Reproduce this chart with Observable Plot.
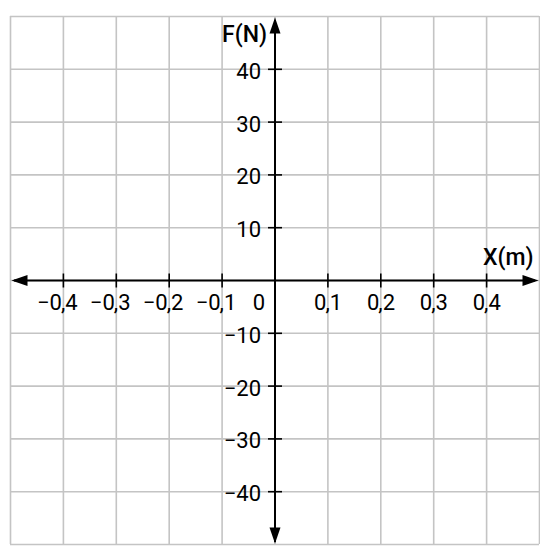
<!DOCTYPE html>
<html>
<head>
<meta charset="utf-8">
<script src="https://cdn.jsdelivr.net/npm/d3@7"></script>
<script src="https://cdn.jsdelivr.net/npm/@observablehq/plot@0.6"></script>
<style>
  html, body { margin: 0; padding: 0; background: #fff; }
  #chart svg { display: block; }
</style>
</head>
<body>
<div id="chart"></div>
<script>
// ---- data ----
const gridX = [-0.5, -0.4, -0.3, -0.2, -0.1, 0, 0.1, 0.2, 0.3, 0.4, 0.5];
const gridY = [-50, -40, -30, -20, -10, 0, 10, 20, 30, 40, 50];
const xTicks = [-0.4, -0.3, -0.2, -0.1, 0.1, 0.2, 0.3, 0.4];
const xTickLabels = ["−0,4", "−0,3", "−0,2", "−0,1", "0,1", "0,2", "0,3", "0,4"];
const yTicks = [-40, -30, -20, -10, 10, 20, 30, 40];
const yTickLabels = ["−40", "−30", "−20", "−10", "10", "20", "30", "40"];
const originLabel = "0";
const xTitle = "X(m)";
const yTitle = "F(N)";

// ---- derived tables ----
const xMin = d3.min(gridX), xMax = d3.max(gridX);
const yMin = d3.min(gridY), yMax = d3.max(gridY);
const xTickData = xTicks.map((v, i) => {
  const [a, b] = xTickLabels[i].split(",");
  return {v, int: a, frac: "," + b};
});
const yTickData = yTicks.map((v, i) => ({v, label: yTickLabels[i]}));
const arrows = [
  {x: xMin, y: 0, r: -90},
  {x: xMax, y: 0, r: 90},
  {x: 0, y: yMax, r: 0},
  {x: 0, y: yMin, r: 180}
];

// custom symbols
const arrowHead = {
  draw(ctx) {
    const L = 16, W = 5.5, o = 1;
    ctx.moveTo(0, o);
    ctx.lineTo(-W, o + L);
    ctx.lineTo(W, o + L);
    ctx.closePath();
  }
};
const tickMark = {
  draw(ctx) {
    ctx.moveTo(0, -7);
    ctx.lineTo(0, 7);
  }
};

const font = "Roboto, 'DejaVu Sans', sans-serif";
const fs = 22;

const chart = Plot.plot({
  width: 540,
  height: 552,
  marginLeft: 10,
  marginRight: 1,
  marginTop: 16,
  marginBottom: 8,
  x: {domain: [xMin, xMax], axis: null},
  y: {domain: [yMin, yMax], axis: null},
  style: {fontFamily: font, background: "#fff", color: "#000"},
  marks: [
    Plot.ruleX(gridX, {x: d => d, stroke: "#c4c4c4", strokeWidth: 1.6}),
    Plot.ruleY(gridY, {y: d => d, stroke: "#c4c4c4", strokeWidth: 1.6}),
    Plot.ruleY([0], {y: d => d, stroke: "#000", strokeWidth: 2, insetLeft: 4, insetRight: 4}),
    Plot.ruleX([0], {x: d => d, stroke: "#000", strokeWidth: 2, insetTop: 4, insetBottom: 2}),
    Plot.dot(arrows, {x: "x", y: "y", rotate: "r", r: 5, symbol: arrowHead, fill: "#000", stroke: "none"}),
    Plot.dot(xTicks, {x: d => d, y: () => 0, r: 5, symbol: tickMark, fill: "none", stroke: "#000", strokeWidth: 1.6}),
    Plot.dot(yTicks, {x: () => 0, y: d => d, r: 5, rotate: 90, symbol: tickMark, fill: "none", stroke: "#000", strokeWidth: 1.6}),
    Plot.text(xTickData, {x: "v", y: () => 0, text: "int", textAnchor: "end", lineAnchor: "top", dx: -1.5, dy: 14, fontSize: fs, fill: "#000"}),
    Plot.text(xTickData, {x: "v", y: () => 0, text: "frac", textAnchor: "start", lineAnchor: "top", dx: -2.5, dy: 14, fontSize: fs, fill: "#000"}),
    Plot.text([originLabel], {x: () => 0, y: () => 0, text: d => d, textAnchor: "end", lineAnchor: "top", dx: -10, dy: 14, fontSize: fs, fill: "#000"}),
    Plot.text(yTickData, {x: () => 0, y: "v", text: "label", textAnchor: "end", dx: -14, dy: 2.5, fontSize: fs, fill: "#000"}),
    Plot.text([yTitle], {x: () => 0, y: () => yMax, text: d => d, textAnchor: "end", lineAnchor: "bottom", dx: -8, dy: 25, fontSize: 23, fontWeight: 500, fill: "#000"}),
    Plot.text([xTitle], {x: () => xMax, y: () => 0, text: d => d, textAnchor: "end", lineAnchor: "bottom", dx: -6, dy: -16, fontSize: 23, fontWeight: 500, fill: "#000"})
  ]
});
document.getElementById("chart").appendChild(chart);
</script>
</body>
</html>
